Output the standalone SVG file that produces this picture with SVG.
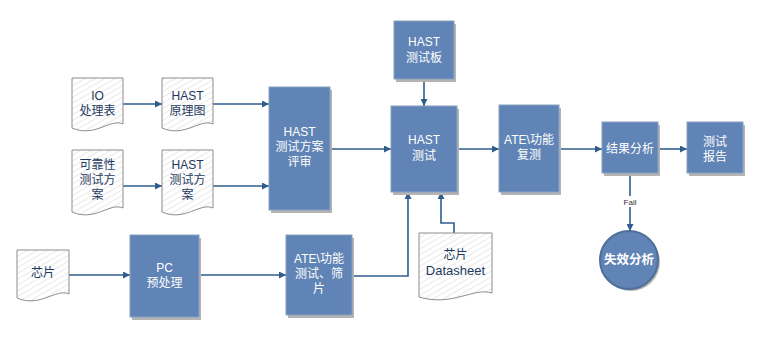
<svg xmlns="http://www.w3.org/2000/svg" width="762" height="338" viewBox="0 0 762 338">
<style>
.box{fill:#5f84b5;stroke:#8aa2c2;stroke-width:1}
.sh{fill:#b4b4b4}
.doc{fill:url(#hatch);stroke:#8c8c8c;stroke-width:1}
.wt{fill:#ffffff;font-family:"Liberation Sans","Noto Sans CJK SC",sans-serif;font-size:12px;text-anchor:middle;dominant-baseline:central}
.dt{fill:#1f3a60;font-family:"Liberation Sans","Noto Sans CJK SC",sans-serif;font-size:12px;text-anchor:middle;dominant-baseline:central}
.ln{fill:none;stroke:#2f5d8c;stroke-width:1.6}
.ar{marker-end:url(#ah)}
</style>
<defs>
<pattern id="hatch" width="5" height="5" patternUnits="userSpaceOnUse" patternTransform="rotate(-30)">
<rect width="5" height="5" fill="#ffffff"/>
<line x1="0" y1="0" x2="5" y2="0" stroke="#d4d4d4" stroke-width="1"/>
</pattern>
<marker id="ah" viewBox="0 0 10 10" refX="10" refY="5" markerWidth="7" markerHeight="7" markerUnits="userSpaceOnUse" orient="auto">
<path d="M0,0 L10,5 L0,10 Z" fill="#2f5d8c"/>
</marker>
</defs>
<rect width="762" height="338" fill="#ffffff"/>

<g id="connectors">
<line class="ln ar" x1="123" y1="104" x2="162" y2="104"/>
<line class="ln ar" x1="213" y1="104" x2="269" y2="104"/>
<line class="ln ar" x1="123" y1="186" x2="162" y2="186"/>
<line class="ln ar" x1="213" y1="186" x2="269" y2="186"/>
<line class="ln ar" x1="330" y1="149" x2="391" y2="149"/>
<line class="ln ar" x1="424" y1="79" x2="424" y2="106"/>
<line class="ln ar" x1="457" y1="149" x2="499" y2="149"/>
<line class="ln ar" x1="559" y1="149" x2="602" y2="149"/>
<line class="ln ar" x1="658" y1="149" x2="687" y2="149"/>
<line class="ln ar" x1="630" y1="173" x2="630" y2="231"/>
<rect x="621" y="196" width="18" height="11" fill="#ffffff"/>
<text x="630" y="202" style="font-family:'Liberation Sans',sans-serif;font-size:8px;fill:#333;text-anchor:middle;dominant-baseline:central">Fail</text>
<line class="ln ar" x1="69" y1="275" x2="130" y2="275"/>
<line class="ln ar" x1="199" y1="275" x2="286" y2="275"/>
<path class="ln ar" d="M352,276 H408 V192"/>
<path class="ln ar" d="M454,233 V223 H441 V192"/>
</g>

<g id="doc-io">
<path class="doc" d="M72,78 H123 V124 C110,118 95,138 72,128 Z"/>
<text class="dt" x="97.5" y="96">IO</text>
<text class="dt" x="97.5" y="111">处理表</text>
</g>
<g id="doc-yuanli">
<path class="doc" d="M162,78 H213 V124 C200,118 185,138 162,128 Z"/>
<text class="dt" x="187.5" y="96">HAST</text>
<text class="dt" x="187.5" y="111">原理图</text>
</g>
<g id="doc-kekao">
<path class="doc" d="M72,150 H123 V208 C110,202 95,222 72,212 Z"/>
<text class="dt" x="97.5" y="165">可靠性</text>
<text class="dt" x="97.5" y="180">测试方</text>
<text class="dt" x="97.5" y="195">案</text>
</g>
<g id="doc-fangan">
<path class="doc" d="M162,150 H213 V208 C200,202 185,222 162,212 Z"/>
<text class="dt" x="187.5" y="165">HAST</text>
<text class="dt" x="187.5" y="180">测试方</text>
<text class="dt" x="187.5" y="195">案</text>
</g>
<g id="doc-chip">
<path class="doc" d="M17,250 H69 V294 C56,288 40,308 17,298 Z"/>
<text class="dt" x="43" y="273">芯片</text>
</g>
<g id="doc-datasheet">
<path class="doc" d="M419,233 H492 V293 C474,287 452,307 419,297 Z"/>
<text class="dt" x="455.5" y="255">芯片</text>
<text class="dt" x="455.5" y="270" style="font-size:13px">Datasheet</text>
</g>

<g id="node-review">
<rect class="sh" x="271" y="90" width="61" height="123"/>
<rect class="box" x="269" y="87" width="61" height="123"/>
<text class="wt" x="299.5" y="132">HAST</text>
<text class="wt" x="299.5" y="147">测试方案</text>
<text class="wt" x="299.5" y="162">评审</text>
</g>
<g id="node-board">
<rect class="sh" x="396" y="24" width="60" height="58"/>
<rect class="box" x="394" y="21" width="60" height="58"/>
<text class="wt" x="424" y="42">HAST</text>
<text class="wt" x="424" y="58">测试板</text>
</g>
<g id="node-test">
<rect class="sh" x="393" y="109" width="66" height="86"/>
<rect class="box" x="391" y="106" width="66" height="86"/>
<text class="wt" x="424" y="140">HAST</text>
<text class="wt" x="424" y="156">测试</text>
</g>
<g id="node-pc">
<rect class="sh" x="132" y="238" width="69" height="82"/>
<rect class="box" x="130" y="235" width="69" height="82"/>
<text class="wt" x="164.5" y="268">PC</text>
<text class="wt" x="164.5" y="283">预处理</text>
</g>
<g id="node-ate1">
<rect class="sh" x="288" y="238" width="66" height="80"/>
<rect class="box" x="286" y="235" width="66" height="80"/>
<text class="wt" x="319" y="259">ATE\功能</text>
<text class="wt" x="319" y="274">测试、筛</text>
<text class="wt" x="319" y="289">片</text>
</g>
<g id="node-ate2">
<rect class="sh" x="501" y="108" width="60" height="87"/>
<rect class="box" x="499" y="105" width="60" height="87"/>
<text class="wt" x="529" y="140">ATE\功能</text>
<text class="wt" x="529" y="155">复测</text>
</g>
<g id="node-result">
<rect class="sh" x="604" y="125" width="56" height="51"/>
<rect class="box" x="602" y="122" width="56" height="51"/>
<text class="wt" x="630" y="149">结果分析</text>
</g>
<g id="node-report">
<rect class="sh" x="689" y="125" width="56" height="51"/>
<rect class="box" x="687" y="122" width="56" height="51"/>
<text class="wt" x="715" y="142">测试</text>
<text class="wt" x="715" y="157">报告</text>
</g>
<g id="node-fail">
<circle class="sh" cx="631" cy="262" r="29"/>
<circle class="box" cx="629" cy="260" r="29" style="stroke:#4f6f99;stroke-width:2"/>
<text class="wt" x="629" y="260" style="font-size:12.5px;font-weight:bold">失效分析</text>
</g>
</svg>
